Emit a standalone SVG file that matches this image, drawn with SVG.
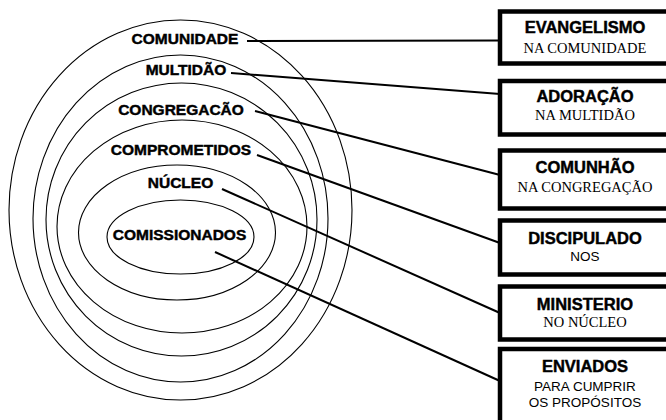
<svg xmlns="http://www.w3.org/2000/svg" width="666" height="420" viewBox="0 0 666 420">
<style>
.ring{fill:none;stroke:#000;stroke-width:1.1}
.lbl{font-family:"Liberation Sans",Arial,sans-serif;font-weight:bold;font-size:15.5px;text-anchor:middle;fill:#000;stroke:#000;stroke-width:0.45}
.box{fill:#fff;stroke:#000;stroke-width:4.5}
.bt{font-family:"Liberation Sans",Arial,sans-serif;font-weight:bold;font-size:16.5px;text-anchor:middle;fill:#000;stroke:#000;stroke-width:0.45}
.bs{font-family:"Liberation Serif","Times New Roman",serif;font-size:14.5px;text-anchor:middle;fill:#000}
.bn{font-family:"Liberation Sans",Arial,sans-serif;font-size:13.5px;text-anchor:middle;fill:#000}
.con{fill:none;stroke:#000;stroke-width:2}
</style>
<rect width="666" height="420" fill="#fff"/>
<g id="rings">
<ellipse class="ring" cx="180.5" cy="210" rx="171.5" ry="190"/>
<ellipse class="ring" cx="180.5" cy="218.5" rx="147.5" ry="163.5"/>
<ellipse class="ring" cx="181.5" cy="219.5" rx="135.5" ry="136.5"/>
<ellipse class="ring" cx="182" cy="226.5" rx="125" ry="106.5"/>
<ellipse class="ring" cx="177" cy="232.5" rx="98.5" ry="67.5"/>
<ellipse class="ring" cx="180.5" cy="237" rx="73.5" ry="37"/>
</g>
<g id="connectors">
<line class="con" x1="247" y1="41" x2="500" y2="40.5" stroke-width="1.6"/>
<line class="con" x1="231" y1="73" x2="500" y2="94"/>
<line class="con" x1="255" y1="111" x2="500" y2="175"/>
<line class="con" x1="257" y1="155" x2="500" y2="243"/>
<line class="con" x1="222" y1="189" x2="500" y2="313"/>
<line class="con" x1="215" y1="252" x2="500" y2="381"/>
</g>
<g id="lbl-comunidade"><text class="lbl" x="185" y="44">COMUNIDADE</text></g>
<g id="lbl-multidao"><text class="lbl" x="186" y="75">MULTIDÃO</text></g>
<g id="lbl-congregacao"><text class="lbl" x="181" y="115">CONGREGACÃO</text></g>
<g id="lbl-comprometidos"><text class="lbl" x="181" y="155">COMPROMETIDOS</text></g>
<g id="lbl-nucleo"><text class="lbl" x="180.5" y="188">NÚCLEO</text></g>
<g id="lbl-comissionados"><text class="lbl" x="179.5" y="240">COMISSIONADOS</text></g>
<g id="box-evangelismo">
<rect class="box" x="500" y="11.5" width="180" height="52"/>
<text class="bt" x="585" y="33">EVANGELISMO</text>
<text class="bs" x="585" y="53">NA COMUNIDADE</text>
</g>
<g id="box-adoracao">
<rect class="box" x="500" y="81" width="180" height="53.5"/>
<text class="bt" x="585" y="102">ADORAÇÃO</text>
<text class="bs" x="585" y="120">NA MULTIDÃO</text>
</g>
<g id="box-comunhao">
<rect class="box" x="500" y="150.5" width="180" height="58"/>
<text class="bt" x="585" y="173">COMUNHÃO</text>
<text class="bs" x="585" y="192">NA CONGREGAÇÃO</text>
</g>
<g id="box-discipulado">
<rect class="box" x="500" y="220.5" width="180" height="54"/>
<text class="bt" x="585" y="244">DISCIPULADO</text>
<text class="bn" x="585" y="261">NOS</text>
</g>
<g id="box-ministerio">
<rect class="box" x="500" y="286.5" width="180" height="53"/>
<text class="bt" x="585" y="310">MINISTERIO</text>
<text class="bs" x="585" y="327">NO NÚCLEO</text>
</g>
<g id="box-enviados">
<rect class="box" x="500" y="349" width="180" height="80"/>
<text class="bt" x="585" y="372">ENVIADOS</text>
<text class="bn" x="585" y="391">PARA CUMPRIR</text>
<text class="bn" x="585" y="407">OS PROPÓSITOS</text>
</g>
</svg>
